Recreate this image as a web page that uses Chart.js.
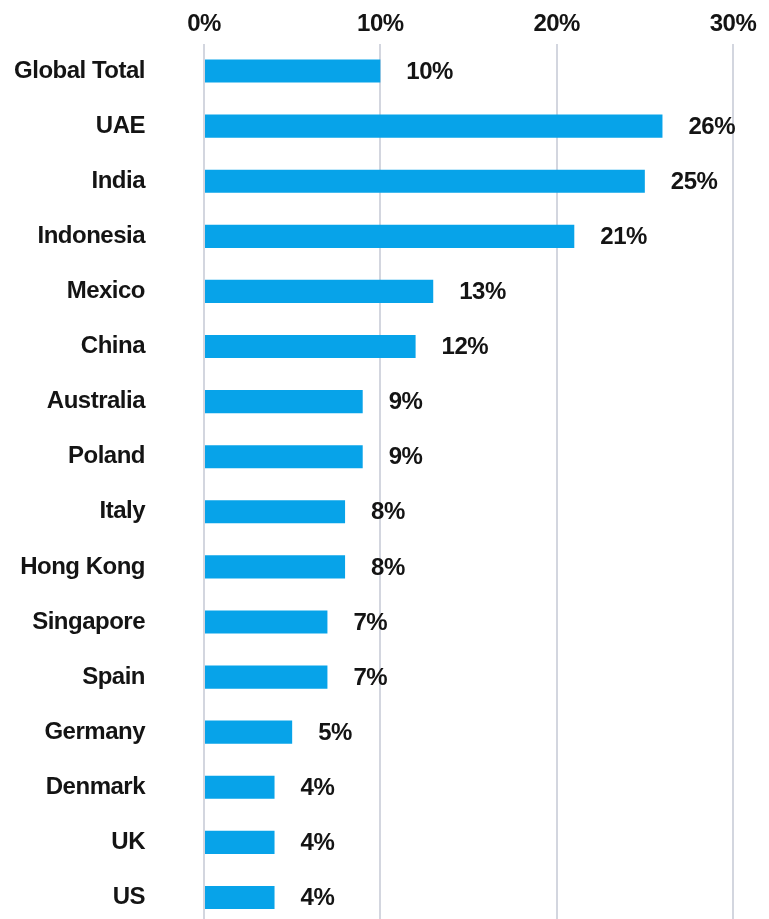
<!DOCTYPE html>
<html>
<head>
<meta charset="utf-8">
<script src="https://cdn.jsdelivr.net/npm/chart.js@4.4.1/dist/chart.umd.min.js"></script>
<style>
  html, body { margin: 0; padding: 0; background: #fff; overflow: hidden; }
  #wrap { position: relative; width: 769px; height: 925px; }
</style>
</head>
<body>
<div id="wrap"><canvas id="barChart"></canvas></div>
<script>
const countries = ['Global Total', 'UAE', 'India', 'Indonesia', 'Mexico', 'China', 'Australia', 'Poland',
    'Italy', 'Hong Kong', 'Singapore', 'Spain', 'Germany', 'Denmark', 'UK', 'US'];
const shares = [10, 26, 25, 21, 13, 12, 9, 9, 8, 8, 7, 7, 5, 4, 4, 4];
const xTicks = [0, 10, 20, 30];

const textFont = { family: '"Liberation Sans", Arial, sans-serif', size: 24, weight: 'bold' };
const textColor = '#141414';

// value labels to the right of each bar
const valueLabels = {
    id: 'valueLabels',
    beforeDraw(chart) {
        chart.ctx.letterSpacing = '-0.5px';
    },
    afterDatasetsDraw(chart) {
        const ctx = chart.ctx;
        const meta = chart.getDatasetMeta(0);
        ctx.save();
        ctx.font = `${textFont.weight} ${textFont.size}px ${textFont.family}`;
        ctx.fillStyle = textColor;
        ctx.textAlign = 'left';
        ctx.textBaseline = 'middle';
        meta.data.forEach((bar, i) => {
            const p = bar.getProps(['x', 'y'], true);
            ctx.fillText(shares[i] + '%', p.x + 26, p.y + 1);
        });
        ctx.restore();
    }
};

const ctx = document.getElementById('barChart').getContext('2d');
const barChart = new Chart(ctx, {
    type: 'bar',
    plugins: [valueLabels],
    data: {
        labels: countries,
        datasets: [{
            data: shares,
            backgroundColor: '#07a3e9',
            borderWidth: 0,
            barPercentage: 0.42,
            categoryPercentage: 1
        }]
    },
    options: {
        indexAxis: 'y',
        responsive: true,
        maintainAspectRatio: false,
        animation: false,
        layout: { padding: { left: 0, right: 36, top: 0, bottom: 0 } },
        plugins: {
            legend: { display: false },
            tooltip: { enabled: false }
        },
        scales: {
            x: {
                position: 'top',
                min: 0,
                max: 30,
                afterBuildTicks(scale) {
                    scale.ticks = xTicks.map(v => ({ value: v }));
                },
                afterFit(scale) {
                    scale.height = 43.5;
                },
                grid: { color: '#d3d6df', lineWidth: 2, drawTicks: false },
                border: { display: false },
                ticks: {
                    color: textColor,
                    font: textFont,
                    padding: 5,
                    maxRotation: 0,
                    callback: v => v + '%'
                }
            },
            y: {
                afterFit(scale) {
                    // keep the axis a fixed width and stop the label padding from
                    // shrinking the plot area vertically
                    scale.width = 204;
                    scale.paddingTop = 0;
                    scale.paddingBottom = 0;
                },
                grid: { display: false, drawTicks: false },
                border: { display: false },
                ticks: {
                    color: textColor,
                    font: textFont,
                    padding: 59,
                    autoSkip: false
                }
            }
        }
    }
});
</script>
</body>
</html>
